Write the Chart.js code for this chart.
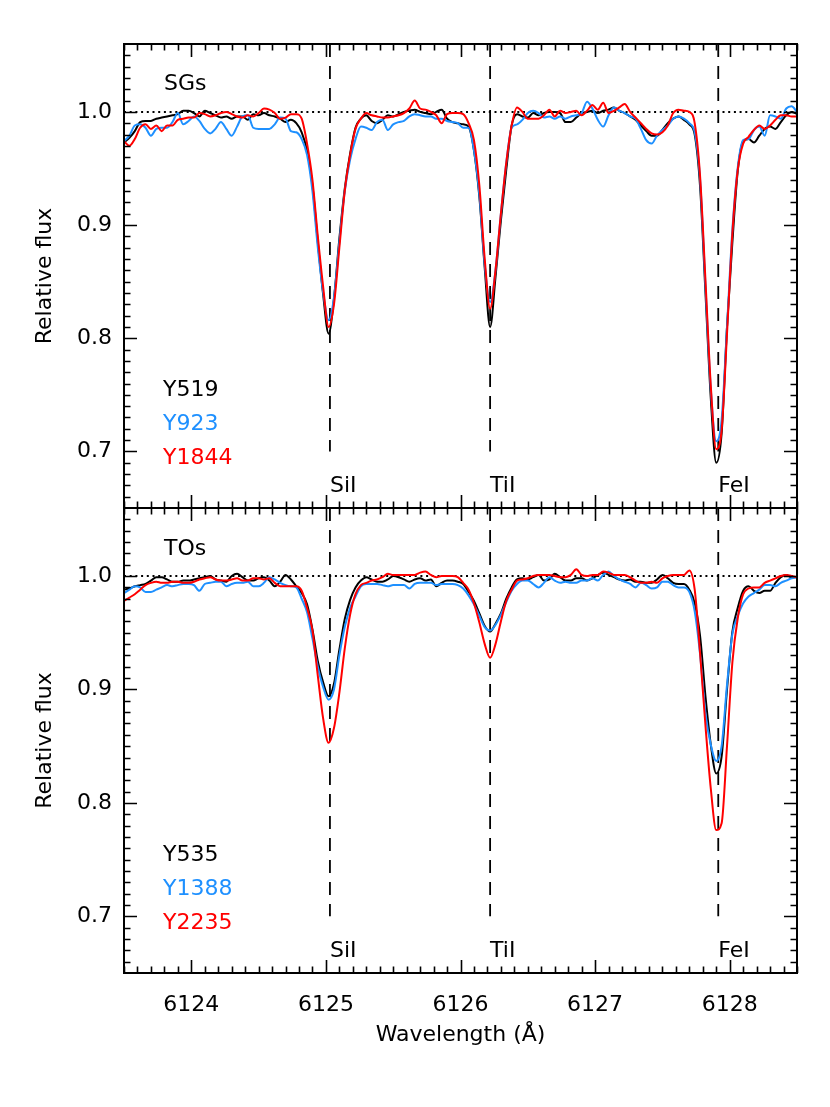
<!DOCTYPE html>
<html><head><meta charset="utf-8">
<script src="https://cdn.jsdelivr.net/npm/chart.js@4.4.1/dist/chart.umd.min.js"></script>
<style>
html,body{margin:0;padding:0;background:#fff;width:830px;height:1107px;overflow:hidden}
.wrap{position:absolute;left:0;width:830px}
#w1{top:0;height:520px}
#w2{top:496px;height:611px}
canvas{display:block}
</style></head><body>
<div class="wrap" id="w1"><canvas id="c1" width="830" height="520"></canvas></div>
<div class="wrap" id="w2"><canvas id="c2" width="830" height="611"></canvas></div>
<script>
// ---------- data ----------
const wave = [
 6123.50,6123.54,6123.58,6123.62,6123.66,6123.70,6123.74,6123.78,6123.82,6123.86,
 6123.90,6123.94,6123.98,6124.02,6124.06,6124.10,6124.14,6124.18,6124.22,6124.26,
 6124.30,6124.34,6124.38,6124.42,6124.46,6124.50,6124.54,6124.58,6124.62,6124.66,
 6124.70,6124.74,6124.78,6124.82,6124.86,6124.90,6124.94,6124.98,6125.02,6125.06,
 6125.10,6125.14,6125.18,6125.22,6125.26,6125.30,6125.34,6125.38,6125.42,6125.46,
 6125.50,6125.54,6125.58,6125.62,6125.66,6125.70,6125.74,6125.78,6125.82,6125.86,
 6125.90,6125.94,6125.98,6126.02,6126.06,6126.10,6126.14,6126.18,6126.22,6126.26,
 6126.30,6126.34,6126.38,6126.42,6126.46,6126.50,6126.54,6126.58,6126.62,6126.66,
 6126.70,6126.74,6126.78,6126.82,6126.86,6126.90,6126.94,6126.98,6127.02,6127.06,
 6127.10,6127.14,6127.18,6127.22,6127.26,6127.30,6127.34,6127.38,6127.42,6127.46,
 6127.50,6127.54,6127.58,6127.62,6127.66,6127.70,6127.74,6127.78,6127.82,6127.86,
 6127.90,6127.94,6127.98,6128.02,6128.06,6128.10,6128.14,6128.18,6128.22,6128.26,
 6128.30,6128.34,6128.38,6128.42,6128.46,6128.50];

// SGs panel
const sgY519 = [
 0.973,0.977,0.983,0.991,0.992,0.992,0.994,0.995,0.996,0.997,
 0.998,1.001,1.001,0.999,0.996,1.001,0.999,0.997,0.995,0.996,
 0.994,0.996,0.996,0.993,0.998,0.997,0.999,0.997,0.996,0.994,
 0.991,0.993,0.990,0.982,0.966,0.935,0.885,0.838,0.804,0.835,
 0.888,0.932,0.963,0.986,0.994,0.997,0.992,0.990,0.993,0.997,
 0.996,0.998,1.000,1.001,1.002,1.000,0.999,0.998,1.000,1.002,
 0.994,0.991,0.990,0.989,0.987,0.966,0.925,0.862,0.810,0.854,
 0.904,0.949,0.988,0.998,0.996,0.995,0.999,0.997,0.999,1.000,
 1.000,0.999,0.991,0.991,0.995,0.999,1.000,1.001,0.999,1.001,
 1.002,1.004,1.001,0.999,0.996,0.993,0.988,0.983,0.979,0.979,
 0.984,0.990,0.994,0.996,0.993,0.989,0.980,0.934,0.840,0.746,
 0.690,0.716,0.810,0.885,0.948,0.974,0.976,0.973,0.979,0.985,
 0.987,0.985,0.991,0.997,1.000,0.998];
const sgY923 = [
 0.974,0.979,0.988,0.989,0.986,0.979,0.985,0.986,0.986,0.991,
 0.999,0.989,0.992,0.996,0.992,0.985,0.981,0.985,0.991,0.985,
 0.979,0.987,0.996,0.997,0.986,0.985,0.985,0.985,0.989,0.995,
 0.994,0.983,0.982,0.976,0.962,0.930,0.880,0.840,0.816,0.836,
 0.885,0.930,0.958,0.976,0.987,0.986,0.984,0.991,0.993,0.984,
 0.989,0.991,0.992,0.996,0.998,0.997,0.996,0.996,0.994,0.994,
 0.992,0.991,0.990,0.986,0.986,0.966,0.927,0.865,0.832,0.860,
 0.910,0.955,0.986,0.989,0.993,0.999,1.001,0.999,0.995,0.996,
 0.994,0.996,0.994,0.996,0.997,0.999,1.009,1.003,0.993,0.987,
 0.997,1.004,1.001,0.999,0.996,0.994,0.985,0.975,0.972,0.979,
 0.984,0.988,0.994,0.996,0.994,0.990,0.982,0.940,0.846,0.754,
 0.709,0.728,0.810,0.896,0.951,0.975,0.976,0.984,0.987,0.979,
 0.997,0.996,0.994,1.003,1.005,1.000];
const sgY1844 = [
 0.974,0.970,0.976,0.986,0.989,0.985,0.988,0.983,0.988,0.988,
 0.993,0.994,0.995,0.995,0.999,0.998,0.996,0.997,0.999,1.000,
 0.998,0.996,0.995,0.997,0.996,0.999,1.003,1.002,0.999,0.994,
 0.995,0.998,0.998,0.994,0.972,0.940,0.890,0.845,0.810,0.830,
 0.880,0.930,0.962,0.985,0.994,0.999,0.997,0.996,0.995,0.995,
 0.996,0.997,0.999,1.003,1.010,1.003,1.002,1.000,0.997,0.990,
 0.998,0.999,0.999,0.998,0.990,0.975,0.935,0.870,0.826,0.860,
 0.910,0.955,0.988,1.004,1.000,0.994,0.994,0.994,0.997,1.002,
 0.996,1.001,0.999,1.000,1.001,0.997,1.001,1.006,1.002,1.008,
 0.999,1.001,1.004,1.007,1.000,0.995,0.990,0.985,0.981,0.980,
 0.982,0.988,0.999,1.002,1.001,1.000,0.990,0.943,0.851,0.757,
 0.702,0.719,0.804,0.893,0.949,0.972,0.978,0.984,0.988,0.985,
 0.988,0.993,0.997,0.997,0.996,0.996];

// TOs panel
const toY535 = [
 0.988,0.989,0.991,0.992,0.993,0.996,0.999,0.999,0.997,0.995,
 0.995,0.996,0.996,0.997,0.998,0.999,1.000,0.997,0.996,0.995,
 1.000,1.002,0.999,0.996,0.996,0.998,0.999,0.996,0.991,0.995,
 1.001,0.997,0.991,0.985,0.975,0.953,0.925,0.906,0.894,0.905,
 0.935,0.962,0.979,0.990,0.996,0.999,0.997,0.995,0.995,0.997,
 1.000,0.999,0.997,0.995,0.997,0.998,0.996,0.997,0.991,0.994,
 0.996,0.996,0.995,0.993,0.986,0.978,0.967,0.956,0.951,0.958,
 0.967,0.980,0.990,0.997,0.998,0.997,0.999,1.001,0.996,0.997,
 1.002,0.999,0.996,0.996,0.998,0.998,0.996,0.998,1.001,1.003,
 1.001,0.999,0.997,0.996,0.997,0.995,0.995,0.994,0.994,0.997,
 1.001,0.998,0.994,0.993,0.993,0.988,0.976,0.947,0.894,0.851,
 0.826,0.841,0.900,0.951,0.972,0.987,0.991,0.987,0.985,0.987,
 0.987,0.994,0.999,1.001,0.999,0.999];
const toY1388 = [
 0.985,0.988,0.991,0.990,0.986,0.986,0.988,0.990,0.992,0.991,
 0.992,0.993,0.993,0.992,0.987,0.993,0.994,0.995,0.995,0.991,
 0.993,0.994,0.994,0.995,0.991,0.991,0.994,0.999,0.997,0.994,
 0.992,0.991,0.990,0.980,0.968,0.945,0.920,0.902,0.891,0.900,
 0.930,0.955,0.972,0.982,0.991,0.993,0.993,0.993,0.992,0.991,
 0.992,0.992,0.992,0.989,0.993,0.994,0.994,0.994,0.992,0.993,
 0.993,0.993,0.992,0.989,0.983,0.975,0.965,0.955,0.952,0.957,
 0.966,0.977,0.987,0.993,0.996,0.996,0.993,0.990,0.994,0.999,
 0.996,0.994,0.995,0.994,0.994,0.996,0.996,0.998,0.996,1.001,
 1.004,1.000,0.997,0.995,0.993,0.990,0.994,0.992,0.989,0.990,
 0.995,0.995,0.992,0.990,0.990,0.986,0.969,0.931,0.879,0.851,
 0.837,0.850,0.904,0.949,0.965,0.976,0.982,0.985,0.988,0.992,
 0.992,0.991,0.994,0.996,0.998,0.999];
const toY2235 = [
 0.978,0.981,0.984,0.988,0.992,0.994,0.995,0.994,0.994,0.995,
 0.995,0.994,0.994,0.995,0.997,0.998,0.999,0.997,0.996,0.996,
 0.997,0.998,0.996,0.996,0.998,0.998,0.997,0.998,0.994,0.991,
 0.991,0.991,0.991,0.987,0.972,0.952,0.912,0.874,0.853,0.866,
 0.897,0.936,0.966,0.984,0.992,0.994,0.996,0.997,0.999,1.002,
 1.001,1.001,1.001,1.001,1.001,1.003,1.004,1.001,0.999,1.000,
 1.000,1.000,0.999,0.994,0.988,0.976,0.959,0.940,0.928,0.940,
 0.960,0.978,0.988,0.996,0.997,0.998,1.000,1.001,1.001,1.001,
 1.000,0.999,0.999,1.001,1.006,1.001,1.000,1.001,1.001,1.004,
 1.003,1.001,1.001,1.001,0.999,0.996,0.994,0.994,0.995,0.994,
 0.998,1.000,1.001,1.001,1.001,1.005,0.988,0.932,0.868,0.812,
 0.776,0.782,0.850,0.924,0.963,0.984,0.989,0.990,0.990,0.994,
 0.996,0.998,1.000,1.001,1.000,0.999];

const sgNames = ['Y519', 'Y923', 'Y1844'];
const toNames = ['Y535', 'Y1388', 'Y2235'];
const seriesColors = ['#000000', '#1E90FF', '#FF0000'];
const lineWaves = [6125.03, 6126.22, 6127.915];
const lineNames = ['SiI', 'TiI', 'FeI'];
const xTickValues = [6124, 6125, 6126, 6127, 6128];
const yTickValues = [0.7, 0.8, 0.9, 1.0];
const xRange = [6123.5, 6128.5];
const yRange = [0.65, 1.06];

// ---------- drawing ----------
const FONT = '"DejaVu Sans", sans-serif';
const FS = 22;

const decorPlugin = {
  id: 'decor',
  afterDraw(chart) {
    const o = chart.options.plugins.decor;
    const {ctx, chartArea: a, scales: {x, y}} = chart;
    ctx.save();
    ctx.strokeStyle = '#000';
    ctx.lineWidth = 1.6;
    ctx.beginPath();
    for (let i = 0; i <= 50; i++) {
      const v = xRange[0] + i * 0.1;
      const major = Math.abs(v - Math.round(v)) < 1e-6;
      const L = major ? 13 : 6.5;
      const px = Math.round(x.getPixelForValue(v)) + 0.5;
      ctx.moveTo(px, a.bottom); ctx.lineTo(px, a.bottom - L);
      ctx.moveTo(px, a.top); ctx.lineTo(px, a.top + L);
    }
    for (let i = 66; i <= 105; i++) {
      const v = i / 100;
      const L = (i % 10 === 0) ? 13 : 6.5;
      const py = Math.round(y.getPixelForValue(v)) + 0.5;
      ctx.moveTo(a.left, py); ctx.lineTo(a.left + L, py);
      ctx.moveTo(a.right, py); ctx.lineTo(a.right - L, py);
    }
    ctx.stroke();
    ctx.lineWidth = 2;
    ctx.strokeRect(a.left, a.top, a.right - a.left, a.bottom - a.top);

    ctx.font = FS + 'px ' + FONT;
    ctx.textBaseline = 'alphabetic';
    ctx.textAlign = 'left';
    ctx.fillStyle = '#000';
    ctx.fillText(o.title, a.left + 40, y.getPixelForValue(1.019));
    const nameY = [0.749, 0.719, 0.689];
    o.names.forEach((n, i) => {
      ctx.fillStyle = seriesColors[i];
      ctx.fillText(n, a.left + 39, y.getPixelForValue(nameY[i]));
    });
    ctx.fillStyle = '#000';
    lineWaves.forEach((w, i) => {
      ctx.fillText(lineNames[i], x.getPixelForValue(w), y.getPixelForValue(0.664));
    });
    ctx.restore();
  }
};

function makePanel(id, title, names, series, showX) {
  const datasets = [];
  lineWaves.forEach(w => datasets.push({
    data: [{x: w, y: yRange[1]}, {x: w, y: 0.7}],
    borderColor: '#000', borderWidth: 1.8, borderDash: [13, 9],
    pointRadius: 0, tension: 0, order: 10
  }));
  datasets.push({
    data: [{x: xRange[0], y: 1.0}, {x: xRange[1], y: 1.0}],
    borderColor: '#000', borderWidth: 2, borderDash: [2, 3.7],
    pointRadius: 0, tension: 0, order: 9
  });
  series.forEach((s, i) => datasets.push({
    label: names[i],
    data: wave.map((w, j) => ({x: w, y: s[j]})),
    borderColor: seriesColors[i], borderWidth: 2,
    pointRadius: 0, cubicInterpolationMode: 'monotone', order: 3 - i
  }));

  return new Chart(document.getElementById(id), {
    type: 'line',
    data: {datasets},
    plugins: [decorPlugin],
    options: {
      responsive: false, animation: false, events: [],
      layout: {padding: {left: 0, right: 33, top: showX ? 12 : 44, bottom: 0}},
      plugins: {
        legend: {display: false}, tooltip: {enabled: false},
        decor: {title, names}
      },
      scales: {
        x: {
          type: 'linear', min: xRange[0], max: xRange[1], position: 'bottom',
          afterBuildTicks: s => { s.ticks = xTickValues.map(v => ({value: v})); },
          afterFit: s => { s.height = showX ? 134 : 12; s.paddingLeft = 0; s.paddingRight = 0; },
          grid: {display: false, drawTicks: false}, border: {display: false},
          ticks: {display: showX, padding: 19, color: '#000', maxRotation: 0,
                  font: {family: FONT, size: FS}, callback: v => String(v)},
          title: {display: showX, text: 'Wavelength (Å)', color: '#000',
                  font: {family: FONT, size: FS}, padding: {top: 0, bottom: 59}}
        },
        y: {
          type: 'linear', min: yRange[0], max: yRange[1], position: 'left',
          afterBuildTicks: s => { s.ticks = yTickValues.map(v => ({value: v})); },
          afterFit: s => { s.width = 124; s.paddingTop = 0; s.paddingBottom = 0; },
          grid: {display: false, drawTicks: false}, border: {display: false},
          ticks: {padding: 12, color: '#000', font: {family: FONT, size: FS},
                  callback: v => Number(v).toFixed(1)},
          title: {display: true, text: 'Relative flux', color: '#000',
                  font: {family: FONT, size: FS}, padding: {top: 32, bottom: 0}}
        }
      }
    }
  });
}

makePanel('c1', 'SGs', sgNames, [sgY519, sgY923, sgY1844], false);
makePanel('c2', 'TOs', toNames, [toY535, toY1388, toY2235], true);
</script></body></html>
